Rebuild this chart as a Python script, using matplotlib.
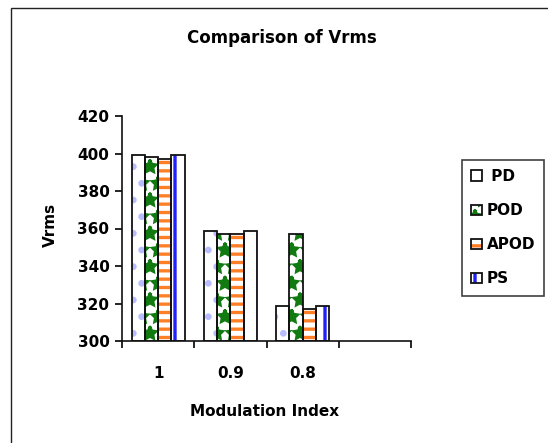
import numpy as np
import matplotlib
matplotlib.use("Agg")
import matplotlib.pyplot as plt
from matplotlib.patches import Rectangle
from matplotlib.legend_handler import HandlerTuple

# Vrms per modulation index for each PWM scheme
mod_index = ["1", "0.9", "0.8"]
n_slots = 4  # the category axis keeps one empty slot on the right
pd_vrms = [399, 358.5, 318.5]
pod_vrms = [398, 357, 357]
apod_vrms = [397, 357, 317]
ps_vrms = [399, 358.5, 318.5]
y_ticks = [300, 320, 340, 360, 380, 400, 420]

plt.rcParams["font.family"] = ["DejaVu Sans"]
plt.rcParams["font.weight"] = "bold"
plt.rcParams["hatch.linewidth"] = 2.4

FS = 11

fig = plt.figure(figsize=(5.48, 4.43), dpi=100)
fig.patch.set_facecolor("white")

# outer chart frame (right and bottom edges run past the canvas)
fig.add_artist(Rectangle((11 / 548, -0.05), 1.2, 1 - 8 / 443 + 0.05,
                         transform=fig.transFigure, fill=False,
                         edgecolor="#222222", linewidth=1.0))

ax = fig.add_axes([122 / 548, 1 - 341 / 443, (411 - 122) / 548, (341 - 116) / 443])

series = [
    (" PD", pd_vrms, "#b8bcff", "."),
    ("POD", pod_vrms, "#117a11", "*"),
    ("APOD", apod_vrms, "#ff7f27", "--"),
    ("PS", ps_vrms, "#2020ff", "|"),
]

width = 0.184
x = np.arange(len(mod_index)) + 0.5
handles = []
for i, (name, vals, col, hatch) in enumerate(series):
    pos = x + (i - 1.5) * width
    base = np.full(len(vals), 300.0)
    heights = np.asarray(vals) - base
    pat = ax.bar(pos, heights, width, bottom=base, color="white",
                 edgecolor=col, linewidth=0, hatch=hatch, zorder=2)
    out = ax.bar(pos, heights, width, bottom=base, fill=False,
                 edgecolor="#111111", linewidth=1.3, zorder=3)
    handles.append((pat.patches[0], out.patches[0]))

ax.set_xlim(0, n_slots)
ax.set_ylim(300, 420)
ax.set_yticks(y_ticks)
ax.set_xticks(np.arange(n_slots + 1))
ax.set_xticklabels([])
ax.set_xticks(x, minor=True)
ax.set_xticklabels(mod_index, minor=True)
ax.tick_params(axis="x", which="minor", length=0, pad=18, labelsize=FS)
ax.tick_params(axis="x", which="major", length=5, width=1.2, direction="out")
ax.tick_params(axis="y", length=5, width=1.2, direction="out", pad=4, labelsize=FS)

for s in ("top", "right"):
    ax.spines[s].set_visible(False)
for s in ("left", "bottom"):
    ax.spines[s].set_linewidth(1.2)
    ax.spines[s].set_color("#111111")

ax.set_xlabel("Modulation Index", fontsize=FS, fontweight="bold")
ax.xaxis.set_label_coords(0.495, -0.282)
ax.set_ylabel("Vrms", fontsize=FS, fontweight="bold")
ax.yaxis.set_label_coords(-0.222, 0.515)
fig.text(282 / 548, 1 - 38 / 443, "Comparison of Vrms", ha="center", va="center",
         fontsize=12, fontweight="bold")

leg = fig.legend(handles, [s[0] for s in series],
                 handler_map={tuple: HandlerTuple(ndivide=1)},
                 loc="upper left", bbox_to_anchor=(462 / 548, 1 - 160 / 443),
                 frameon=True, fancybox=False, edgecolor="#111111",
                 handlelength=0.7, handleheight=0.7,
                 handletextpad=0.3, labelspacing=1.25, borderpad=0.6,
                 borderaxespad=0, prop={"weight": "bold", "size": FS})
leg.get_frame().set_linewidth(1.2)

fig.savefig("out.png", dpi=100, facecolor="white")
